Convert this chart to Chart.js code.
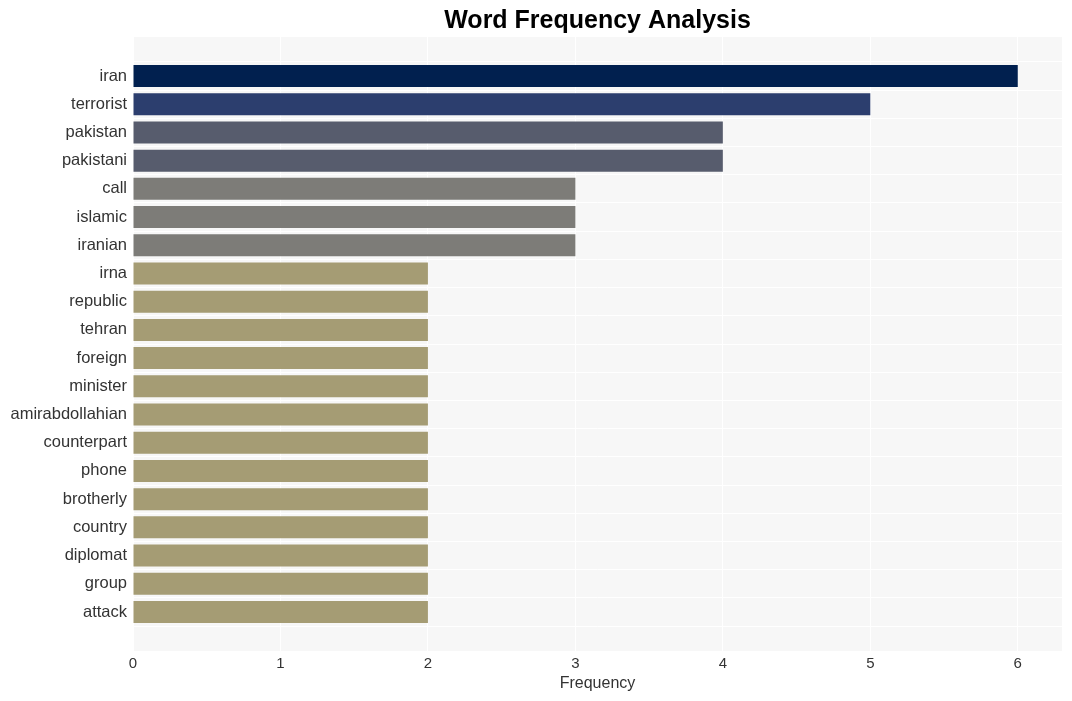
<!DOCTYPE html>
<html>
<head>
<meta charset="utf-8">
<script src="https://cdn.jsdelivr.net/npm/chart.js@4"></script>
<style>
    html, body { margin: 0 ; padding: 0 ; background: #ffffff ; }
    #wrap { width: 1072px ; height: 701px ; }
</style>
</head>
<body>
<div id="wrap"><canvas id="freqChart" width="1072" height="701"></canvas></div>
<script>
    // ---------------- Data -----------------------------------------------
    const words = [ "iran", "terrorist", "pakistan", "pakistani", "call",
                    "islamic", "iranian", "irna", "republic", "tehran",
                    "foreign", "minister", "amirabdollahian", "counterpart",
                    "phone", "brotherly", "country", "diplomat", "group",
                    "attack" ] ;
    const counts = [ 6, 5, 4, 4, 3, 3, 3, 2, 2, 2, 2, 2, 2, 2, 2, 2, 2, 2, 2, 2 ] ;
    const xTicks = [ 0, 1, 2, 3, 4, 5, 6 ] ;

    const CHART_TITLE = "Word Frequency Analysis" ;
    const X_TITLE = "Frequency" ;

    // colour by frequency value
    const colourByCount = {
        6 : '#01204f',
        5 : '#2c3e6e',
        4 : '#575c6d',
        3 : '#7d7c78',
        2 : '#a59c74',
    } ;

    const FONT = "'Liberation Sans', Arial, sans-serif" ;

    // ---------------- Plugins --------------------------------------------
    const plotBackground = {
        id : 'plotBackground',
        beforeDraw : function( chart ) {
            var a = chart.chartArea ;
            var ctx = chart.ctx ;
            ctx.save() ;
            ctx.fillStyle = '#f7f7f7' ;
            ctx.fillRect( a.left, a.top, a.right - a.left, a.bottom - a.top ) ;
            ctx.restore() ;
        }
    } ;

    const centredTitle = {
        id : 'centredTitle',
        afterDraw : function( chart ) {
            var a = chart.chartArea ;
            var ctx = chart.ctx ;
            ctx.save() ;
            ctx.font = "bold 25px " + FONT ;
            ctx.fillStyle = '#000000' ;
            ctx.textAlign = 'center' ;
            ctx.textBaseline = 'alphabetic' ;
            ctx.fillText( CHART_TITLE, ( a.left + a.right ) / 2, 28 ) ;
            ctx.restore() ;
        }
    } ;

    // ---------------- Chart ----------------------------------------------
    function getDataset() {
        return {
            data : words.map( function( w, i ) { return { x : counts[i], y : i } ; } ),
            backgroundColor : counts.map( function( c ) { return colourByCount[c] ; } ),
            borderWidth : 0,
            barPercentage : 0.78,
            categoryPercentage : 1.0,
        } ;
    }

    function getScaleOptions() {
        return {
            x : {
                type : 'linear',
                min : 0,
                max : 6.3,
                afterBuildTicks : function( scale ) {
                    scale.ticks = xTicks.map( function( v ) { return { value : v } ; } ) ;
                },
                afterFit : function( scale ) { scale.height = 50 ; },
                border : { display : false },
                grid : { color : '#ffffff', lineWidth : 1, drawTicks : false },
                ticks : {
                    padding : 4,
                    color : '#333333',
                    font : { family : FONT, size : 15 },
                },
                title : {
                    display : true,
                    text : X_TITLE,
                    color : '#333333',
                    font : { family : FONT, size : 16 },
                    padding : { top : 0, bottom : 8 },
                }
            },
            y : {
                type : 'linear',
                reverse : true,
                min : -0.84,
                max : 19.84,
                afterBuildTicks : function( scale ) {
                    scale.ticks = words.map( function( w, i ) { return { value : i } ; } ) ;
                },
                afterFit : function( scale ) { scale.width = 133 ; },
                border : { display : false },
                grid : { color : '#ffffff', lineWidth : 1, drawTicks : false },
                ticks : {
                    padding : 6,
                    color : '#333333',
                    font : { family : FONT, size : 16.5 },
                    callback : function( value ) { return words[ value ] ; }
                }
            }
        } ;
    }

    var canvas = document.getElementById( 'freqChart' ) ;
    var chart = new Chart( canvas, {
        type : 'bar',
        data : { datasets : [ getDataset() ] },
        options : {
            indexAxis : 'y',
            responsive : false,
            animation : false,
            layout : { padding : { top : 37, right : 10, bottom : 0, left : 0 } },
            plugins : {
                legend : { display : false },
                title : { display : false },
                tooltip : { enabled : false },
            },
            scales : getScaleOptions(),
        },
        plugins : [ plotBackground, centredTitle ]
    } ) ;
</script>
</body>
</html>
